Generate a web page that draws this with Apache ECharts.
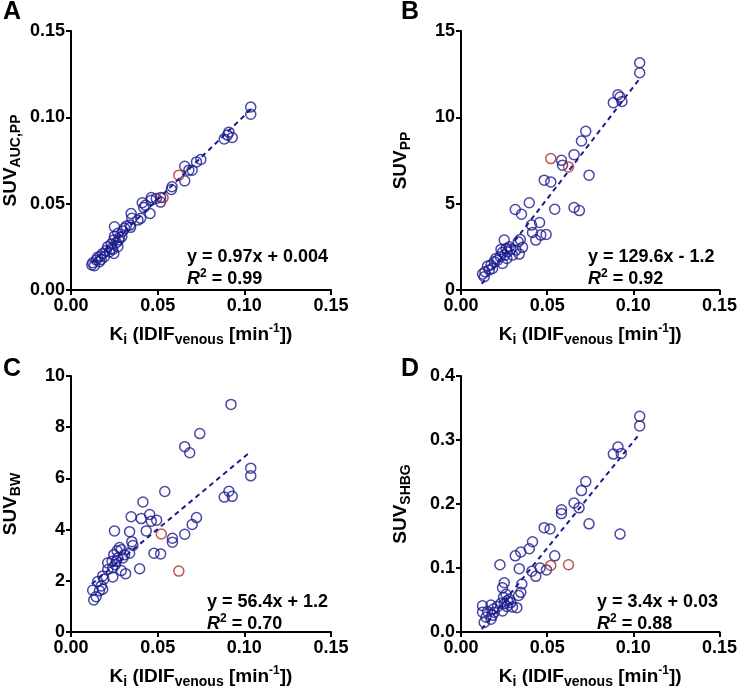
<!DOCTYPE html>
<html><head><meta charset="utf-8">
<script src="https://cdn.jsdelivr.net/npm/echarts@6/dist/echarts.min.js"></script>
<style>html,body{margin:0;padding:0;background:#fff}#c{width:740px;height:690px}</style>
</head><body><div id="c"></div>
<script>
// ---------- DATA ----------
const xTicks = [0, 0.05, 0.10, 0.15];
const yTicksA = [0, 0.05, 0.10, 0.15];
const yTicksB = [0, 5, 10, 15];
const yTicksC = [0, 2, 4, 6, 8, 10];
const yTicksD = [0, 0.1, 0.2, 0.3, 0.4];

const blueA = [[.1037,.106],[.1037,.1018],[.0911,.0914],[.0903,.0897],[.093,.0883],[.0884,.0875],[.0749,.0756],[.0724,.0742],[.0656,.0717],[.068,.0694],[.0699,.0694],[.0656,.0632],[.0583,.0598],[.0579,.0582],[.0517,.0536],[.0517,.0509],[.0492,.053],[.0463,.0536],[.0463,.052],[.0411,.0505],[.0429,.0491],[.042,.0478],[.0456,.0443],[.0347,.0443],[.0351,.0415],[.0402,.0415],[.0386,.0405],[.034,.0376],[.0319,.037],[.0344,.0363],[.0309,.0357],[.0251,.0366],[.0299,.0341],[.027,.0328],[.0251,.0312],[.0293,.0309],[.0276,.0289],[.0247,.0289],[.0261,.0274],[.0232,.0266],[.027,.0251],[.0212,.0251],[.0241,.0235],[.0203,.0228],[.0222,.0222],[.0183,.0212],[.0247,.0212],[.017,.0197],[.0193,.0193],[.0154,.0189],[.0145,.0174],[.0174,.0177],[.0125,.0158],[.0135,.0141],[.012,.0145],[.0164,.0164],[.0232,.0241],[.028,.0305]];
const redA = [[.0622,.0665],[.0531,.0534]];

const blueB = [[.1037,13.16],[.1037,12.58],[.0911,11.31],[.0923,11.18],[.0884,10.85],[.0934,10.92],[.0724,9.19],[.0699,8.63],[.0656,7.84],[.0583,7.51],[.0589,7.23],[.0743,6.65],[.0483,6.36],[.0521,6.26],[.0315,4.66],[.0351,4.39],[.0396,5.05],[.0544,4.68],[.0656,4.78],[.0687,4.6],[.0409,3.76],[.0456,3.91],[.0415,3.33],[.0463,3.18],[.0494,3.22],[.0434,2.89],[.0344,2.93],[.0332,2.79],[.0357,2.47],[.0251,2.89],[.0338,2.08],[.029,2.37],[.027,2.22],[.0241,2.18],[.0255,2.02],[.0299,2.02],[.0228,1.93],[.0266,1.83],[.0212,1.73],[.0241,1.54],[.0193,1.64],[.0174,1.45],[.0154,1.39],[.0183,1.25],[.0164,1.16],[.0139,1.06],[.0125,.92],[.0135,.77],[.0203,1.83],[.028,2.5],[.0319,2.31],[.0232,2.35],[.0261,2.41]];
const redB = [[.0521,7.61],[.0624,7.13]];

const blueC = [[.0923,8.89],[.0743,7.75],[.0656,7.24],[.0685,7.0],[.1037,6.4],[.1037,6.1],[.0911,5.5],[.0884,5.27],[.093,5.3],[.0541,5.49],[.0415,5.08],[.0454,4.59],[.0347,4.5],[.0405,4.43],[.0463,4.33],[.0494,4.37],[.0724,4.47],[.0699,4.2],[.0251,3.95],[.0338,3.92],[.0434,3.95],[.0656,3.82],[.0585,3.66],[.0585,3.51],[.0351,3.53],[.0357,3.38],[.028,3.3],[.029,3.21],[.0266,3.17],[.0338,3.08],[.0309,3.02],[.0247,3.02],[.0479,3.08],[.0517,3.05],[.027,2.89],[.0237,2.76],[.0299,2.89],[.0212,2.7],[.0255,2.63],[.0212,2.44],[.029,2.4],[.0315,2.28],[.0396,2.47],[.0241,2.15],[.0183,2.19],[.0154,1.97],[.0189,2.06],[.0174,1.8],[.0183,1.67],[.0164,1.61],[.0125,1.63],[.0145,1.38],[.0131,1.25],[.0241,2.51],[.0261,2.76]];
const redC = [[.0521,3.83],[.0622,2.38]];

const blueD = [[.1037,.337],[.1037,.322],[.0911,.289],[.0884,.278],[.093,.279],[.0724,.235],[.0699,.221],[.0656,.2015],[.0685,.194],[.0583,.191],[.0583,.185],[.0743,.169],[.0923,.153],[.0483,.163],[.0517,.161],[.0415,.141],[.0396,.13],[.0347,.125],[.0315,.119],[.0544,.119],[.0226,.105],[.0338,.099],[.0411,.095],[.0459,.1],[.0496,.097],[.0434,.087],[.0353,.075],[.0251,.077],[.0241,.069],[.0347,.062],[.0334,.057],[.0261,.059],[.0247,.054],[.028,.051],[.029,.046],[.0232,.045],[.0299,.039],[.0324,.038],[.0266,.04],[.0212,.04],[.0189,.036],[.0174,.042],[.0125,.041],[.0125,.031],[.0154,.032],[.0193,.031],[.0241,.033],[.0145,.023],[.0174,.02],[.0135,.015],[.0183,.026],[.0251,.044],[.027,.049]];
const redD = [[.0521,.104],[.0624,.105]];

// fitted lines: [slope, intercept, xStart, xEnd]
const fitA = [0.97, 0.004, 0.012, 0.104];
const fitB = [129.6, -1.2, 0.012, 0.104];
const fitC = [56.4, 1.2, 0.012, 0.103];
const fitD = [3.33, -0.0355, 0.012, 0.1035];

const eqTexts = ['y = 0.97x + 0.004', 'y = 129.6x - 1.2', 'y = 56.4x + 1.2', 'y = 3.4x + 0.03'];
const r2Texts = ['0.99', '0.92', '0.70', '0.88'];
const panelLetters = ['A', 'B', 'C', 'D'];
const yNames = [['SUV', 'AUC,PP'], ['SUV', 'PP'], ['SUV', 'BW'], ['SUV', 'SHBG']];
const yDecimals = [2, 0, 0, 1];

// ---------- CHART ----------
const FONT = '"Liberation Sans", Arial, sans-serif';
const BLUE = '#1c1c8f';
const RED = '#b02a22';
const panels = [
  {ticks: yTicksA, blue: blueA, red: redA, fit: fitA},
  {ticks: yTicksB, blue: blueB, red: redB, fit: fitB},
  {ticks: yTicksC, blue: blueC, red: redC, fit: fitC},
  {ticks: yTicksD, blue: blueD, red: redD, fit: fitD}
];
const gridPos = [
  {left: 71, top: 31}, {left: 461, top: 31}, {left: 71, top: 376}, {left: 461, top: 376}
];

const grid = [], xAxis = [], yAxis = [], series = [], graphic = [];
const axisLineStyle = {show: true, lineStyle: {color: '#000', width: 2}};
const tickStyle = {show: true, length: 5, lineStyle: {color: '#000', width: 2}};
const rich = {
  b: {fontFamily: FONT, fontWeight: 'bold', fontSize: 19, color: '#000', lineHeight: 24},
  sub: {fontFamily: FONT, fontWeight: 'bold', fontSize: 14, color: '#000', lineHeight: 16, verticalAlign: 'bottom'},
  sup: {fontFamily: FONT, fontWeight: 'bold', fontSize: 12, color: '#000', lineHeight: 14, verticalAlign: 'top'}
};

panels.forEach((p, i) => {
  grid.push({left: gridPos[i].left, top: gridPos[i].top, width: 260, height: 259});
  xAxis.push({
    type: 'value', gridIndex: i, min: xTicks[0], max: xTicks[xTicks.length - 1], interval: xTicks[1] - xTicks[0],
    axisLine: axisLineStyle, axisTick: tickStyle, splitLine: {show: false},
    axisLabel: {color: '#000', fontFamily: FONT, fontWeight: 'bold', fontSize: 18, margin: 7, formatter: v => v.toFixed(2)},
    name: '{b|K}{sub|i}{b| (IDIF}{sub|venous}{b| [min}{sup|-1}{b|])}',
    nameLocation: 'middle', nameGap: 33,
    nameTextStyle: {rich: rich}
  });
  yAxis.push({
    type: 'value', gridIndex: i, min: p.ticks[0], max: p.ticks[p.ticks.length - 1], interval: p.ticks[1] - p.ticks[0],
    axisLine: axisLineStyle, axisTick: tickStyle, splitLine: {show: false},
    axisLabel: {color: '#000', fontFamily: FONT, fontWeight: 'bold', fontSize: 18, margin: 6, formatter: v => v.toFixed(yDecimals[i])},
    name: '{b|' + yNames[i][0] + '}{sub|' + yNames[i][1] + '}',
    nameLocation: 'middle', nameGap: 48,
    nameTextStyle: {rich: rich}
  });
  const f = p.fit;
  series.push({
    type: 'line', xAxisIndex: i, yAxisIndex: i, symbol: 'none', silent: true,
    lineStyle: {color: BLUE, width: 2, type: [5, 4]},
    data: [[f[2], f[0] * f[2] + f[1]], [f[3], f[0] * f[3] + f[1]]]
  });
  series.push({
    type: 'scatter', xAxisIndex: i, yAxisIndex: i, symbol: 'circle', symbolSize: 10, silent: true,
    itemStyle: {color: 'rgba(0,0,0,0)', borderColor: BLUE, borderWidth: 1.5},
    data: p.blue
  });
  series.push({
    type: 'scatter', xAxisIndex: i, yAxisIndex: i, symbol: 'circle', symbolSize: 10, silent: true,
    itemStyle: {color: 'rgba(0,0,0,0)', borderColor: RED, borderWidth: 1.5},
    data: p.red
  });
});

const eqPos = [[187, 248], [588, 248], [207, 593], [597, 593]];
const letterPos = [[3, 0], [401, 0], [3, 357], [401, 357]];
for (let i = 0; i < 4; i++) {
  graphic.push({type: 'text', left: eqPos[i][0], top: eqPos[i][1], silent: true,
    style: {text: eqTexts[i], font: 'bold 18px ' + FONT, fill: '#000'}});
  graphic.push({type: 'text', left: eqPos[i][0], top: eqPos[i][1] + 20, silent: true,
    style: {text: '{i|R}{s|2}{n| = ' + r2Texts[i] + '}',
      rich: {
        i: {fontFamily: FONT, fontWeight: 'bold', fontStyle: 'italic', fontSize: 18, lineHeight: 22, fill: '#000'},
        s: {fontFamily: FONT, fontWeight: 'bold', fontSize: 12, lineHeight: 14, verticalAlign: 'top', fill: '#000'},
        n: {fontFamily: FONT, fontWeight: 'bold', fontSize: 18, lineHeight: 22, fill: '#000'}
      }}});
  graphic.push({type: 'text', left: letterPos[i][0], top: letterPos[i][1], silent: true,
    style: {text: panelLetters[i], font: 'bold 25px ' + FONT, fill: '#000'}});
}

const chart = echarts.init(document.getElementById('c'), null, {renderer: 'canvas'});
chart.setOption({animation: false, grid, xAxis, yAxis, series, graphic});
</script>
</body></html>
